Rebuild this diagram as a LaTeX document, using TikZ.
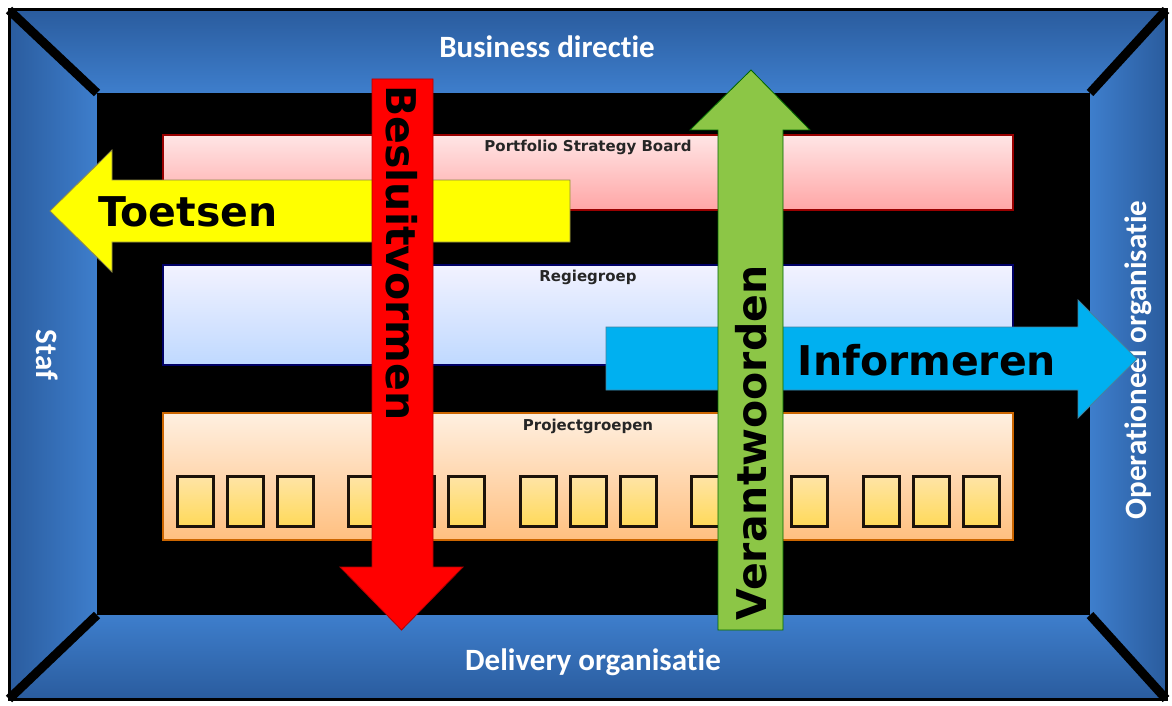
\documentclass[tikz,border=0pt]{standalone}
\usepackage{fontspec}
\newfontfamily\framefont[RawFeature={-liga;-clig;-calt}]{Carlito}
\newfontfamily\arrowfont{DejaVu Sans}
\definecolor{framedark}{RGB}{42,92,158}
\definecolor{framelight}{RGB}{62,126,204}
\definecolor{arrowred}{RGB}{255,0,0}
\definecolor{arrowyellow}{RGB}{255,255,0}
\definecolor{arrowcyan}{RGB}{0,176,240}
\definecolor{arrowgreen}{RGB}{140,198,70}
\begin{document}
\begin{tikzpicture}[x=1pt,y=-1pt,
  bar/.style={draw,line width=1.2pt,minimum width=850pt,inner sep=0pt},
  barlabel/.style={font=\arrowfont\bfseries\fontsize{15}{15}\selectfont,text=black!85,inner sep=6pt},
  projbox/.style={draw=black!85!brown,line width=3pt,top color=yellow!40!orange!35,bottom color=yellow!55!orange!65,minimum width=36pt,minimum height=50pt,inner sep=0pt},
  framelabel/.style={font=\framefont\bfseries\fontsize{31}{31}\selectfont,text=white},
  arrowlabel/.style={font=\arrowfont\bfseries\fontsize{41}{41}\selectfont,text=black}]
  \useasboundingbox (0,0) rectangle (1172,706);
  \fill[white] (0,0) rectangle (1172,706);
  \shade[top color=framedark,bottom color=framelight] (9,10) -- (1166,10) -- (1090,93) -- (97,93) -- cycle;
  \shade[top color=framelight,bottom color=framedark] (97,615) -- (1090,615) -- (1166,699) -- (9,699) -- cycle;
  \shade[left color=framedark,right color=framelight] (9,10) -- (97,93) -- (97,615) -- (9,699) -- cycle;
  \shade[left color=framelight,right color=framedark] (1090,93) -- (1166,10) -- (1166,699) -- (1090,615) -- cycle;
  \draw[line width=9pt] (9,10) -- (97,93) (1166,10) -- (1090,93) (1166,699) -- (1090,615) (9,699) -- (97,615);
  \fill[black] (97,93) rectangle (1090,615);
  \draw[line width=3pt] (9,10) rectangle (1166,699);
  \node[framelabel,anchor=base] (top) at (547,58) {Business directie};
  \node[framelabel,anchor=base] (bottom) at (593,670) {Delivery organisatie};
  \node[framelabel,rotate=-90] (left) at (47,355) {Staf};
  \node[framelabel,rotate=90] (right) at (1138,360) {Operationeel organisatie};
  \node[bar,draw=red!60!black,top color=red!10,bottom color=red!35,minimum height=75pt] (psb) at (588,172.5) {};
  \node[barlabel,anchor=north] at (psb.north) {Portfolio Strategy Board};
  \node[bar,draw=blue!40!black,top color=blue!5,bottom color=blue!60!cyan!25,minimum height=100pt] (regie) at (588,315) {};
  \node[barlabel,anchor=north] at (regie.north) {Regiegroep};
  \node[bar,draw=orange!80!black,top color=orange!12,bottom color=orange!50,minimum height=127pt] (proj) at (588,476.5) {};
  \node[barlabel,anchor=north] at (proj.north) {Projectgroepen};
  \foreach \g in {0,...,4}
    \foreach \b in {0,1,2}
      \node[projbox] (box\g\b) at (195+171.5*\g+50*\b,501.5) {};
  \filldraw[fill=arrowyellow,draw=yellow!50!black,line width=0.8pt] (570,180) -- (112,180) -- (112,150) -- (50,211) -- (112,272) -- (112,242) -- (570,242) -- cycle;
  \node[arrowlabel] (toetsen) at (188,212) {Toetsen};
  \filldraw[fill=arrowred,draw=red!70!black,line width=0.8pt] (372,79) -- (433,79) -- (433,567) -- (463,567) -- (401.5,630) -- (340,567) -- (372,567) -- cycle;
  \node[arrowlabel,rotate=-90] (besluit) at (402,253) {Besluitvormen};
  \filldraw[fill=arrowcyan,draw=cyan!60!black,line width=0.8pt] (606,327) -- (1078,327) -- (1078,300) -- (1137,359) -- (1078,418) -- (1078,390) -- (606,390) -- cycle;
  \node[arrowlabel] (informeren) at (927,360) {Informeren};
  \filldraw[fill=arrowgreen,draw=green!40!black,line width=0.8pt] (718,630) -- (718,130) -- (690,130) -- (751,70) -- (810,130) -- (783,130) -- (783,630) -- cycle;
  \node[arrowlabel,rotate=90] (verantw) at (751,443) {Verantwoorden};
\end{tikzpicture}
\end{document}
